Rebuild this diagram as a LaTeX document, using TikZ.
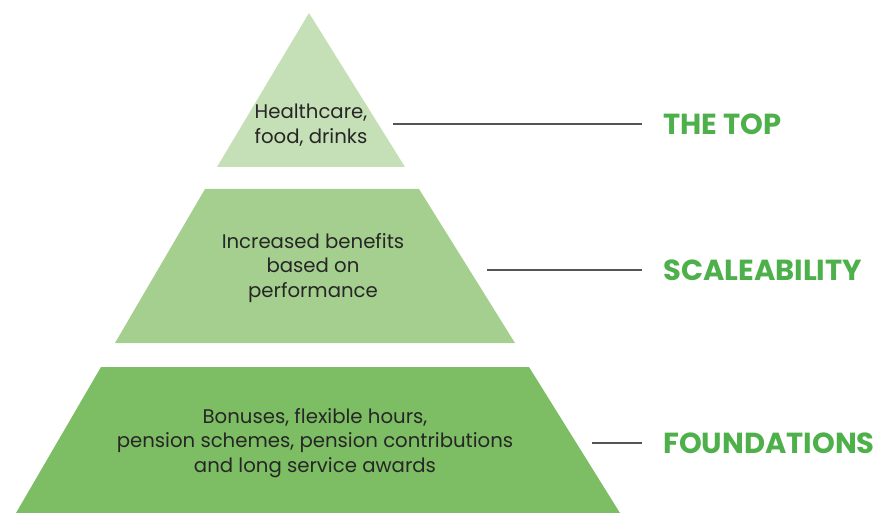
\documentclass[tikz,border=0pt]{standalone}
\usepackage{fontspec}
\setmainfont{Poppins}
\usepackage{xcolor}
\definecolor{topgreen}{HTML}{C5DFB6}
\definecolor{midgreen}{HTML}{A5CF8E}
\definecolor{basegreen}{HTML}{7DBE64}
\definecolor{labelgreen}{HTML}{4DB04A}
\definecolor{leadgray}{HTML}{555555}
\tikzset{
	tiertext/.style={align=center, font=\fontsize{19.7}{24.5}\selectfont, text=black!85},
	tierlabel/.style={anchor=west, inner sep=0pt, font=\fontsize{29}{30}\selectfont\bfseries, text=labelgreen},
	leader/.style={draw=leadgray, line width=1.2pt}
}
\begin{document}
\begin{tikzpicture}[x=1pt,y=-1pt]
			\useasboundingbox (0,0) rectangle (878,513);
			% the three tiers
			\fill[topgreen] (309,13) -- (405,167) -- (217,167) -- cycle;
			\fill[midgreen] (205,189) -- (419,189) -- (515,343) -- (115,343) -- cycle;
			\fill[basegreen] (101,367) -- (529,367) -- (620,513) -- (16,513) -- cycle;
			\node[tiertext] (T) at (311,125){Healthcare,\\food, drinks};
			\node[tiertext] (S) at (313,268){Increased benefits\\based on\\performance};
			\node[tiertext] (F) at (315,443){Bonuses, flexible hours,\\pension schemes, pension contributions\\and long service awards};
			% labels on the right
			\node[tierlabel] (LT) at (663,124){THE TOP};
			\node[tierlabel] (LS) at (663,270){SCALEABILITY};
			\node[tierlabel] (LF) at (663,443){FOUNDATIONS};
			\coordinate (CT) at (393,124);
			\coordinate (CS) at (487,270);
			\coordinate (CF) at (592,443);
			\draw[leader] (CT) -- ([xshift=-21pt]LT.west);
			\draw[leader] (CS) -- ([xshift=-21pt]LS.west);
			\draw[leader] (CF) -- ([xshift=-21pt]LF.west);
		\end{tikzpicture}
\end{document}
